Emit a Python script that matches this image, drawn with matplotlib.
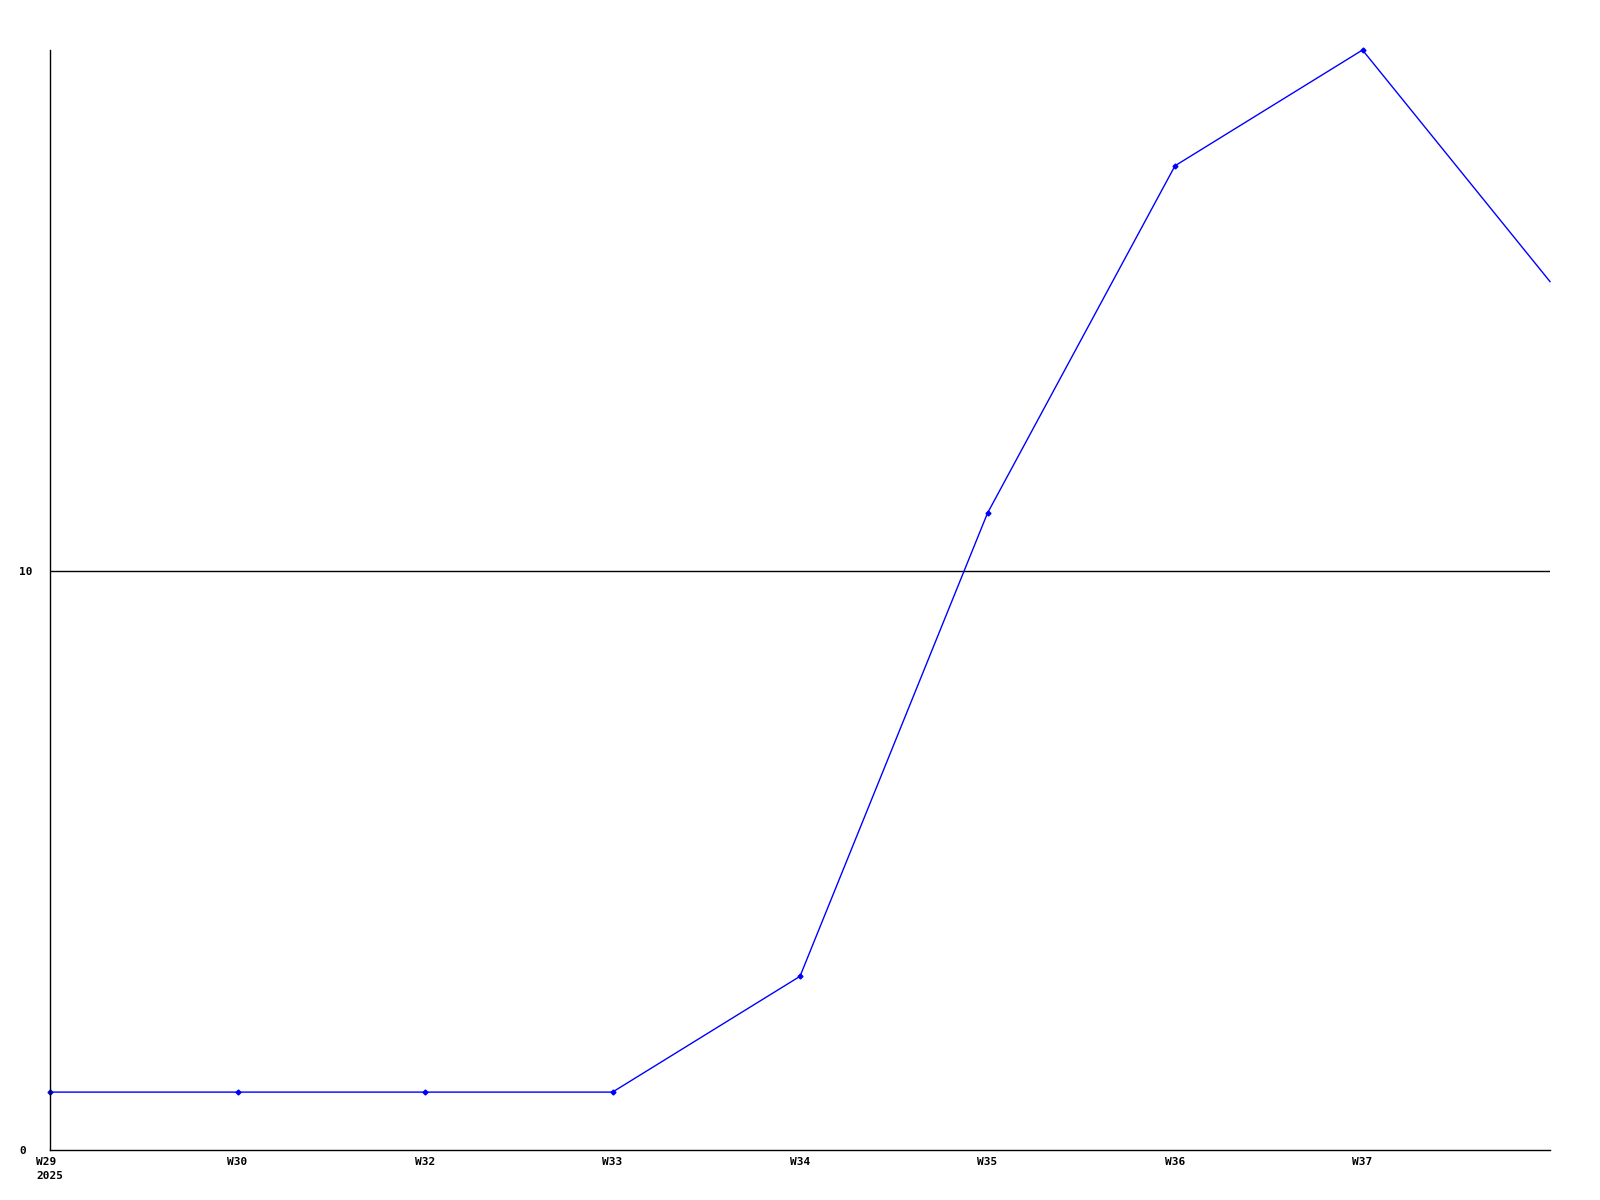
import matplotlib
matplotlib.use("Agg")
import matplotlib.pyplot as plt

# weekly values
weeks = ["W29\n2025", "W30", "W32", "W33", "W34", "W35", "W36", "W37", ""]
values = [1, 1, 1, 1, 3, 11, 17, 19, 15]
y_ticks = [0, 10]

x = list(range(len(values)))

fig = plt.figure(figsize=(16, 12), dpi=100)
ax = fig.add_axes([50 / 1600, 50 / 1200, 1500 / 1600, 1100 / 1200])

ax.plot(x, values, color="#0000ff", linewidth=1.0, marker="D", markersize=2.5,
        markevery=list(range(len(values) - 1)), clip_on=False)
ax.axhline(10, color="black", linewidth=1.0, zorder=0)

ax.set_xlim(0, len(values) - 1)
ax.set_ylim(0, max(values))

for s in ["top", "right"]:
    ax.spines[s].set_visible(False)
for s in ["left", "bottom"]:
    ax.spines[s].set_linewidth(1.0)

font = {"family": "DejaVu Sans Mono", "weight": "bold", "size": 8}
ax.set_xticks(x)
ax.set_xticklabels(weeks, fontdict=font, linespacing=1.5, va="top", ma="left")
ax.set_yticks(y_ticks)
ax.set_yticklabels([str(v) for v in y_ticks], fontdict=font, ha="left")
ax.tick_params(axis="x", length=0, pad=5)
ax.tick_params(axis="y", length=0, pad=22)

fig.savefig("out.png", dpi=100, facecolor="white")
